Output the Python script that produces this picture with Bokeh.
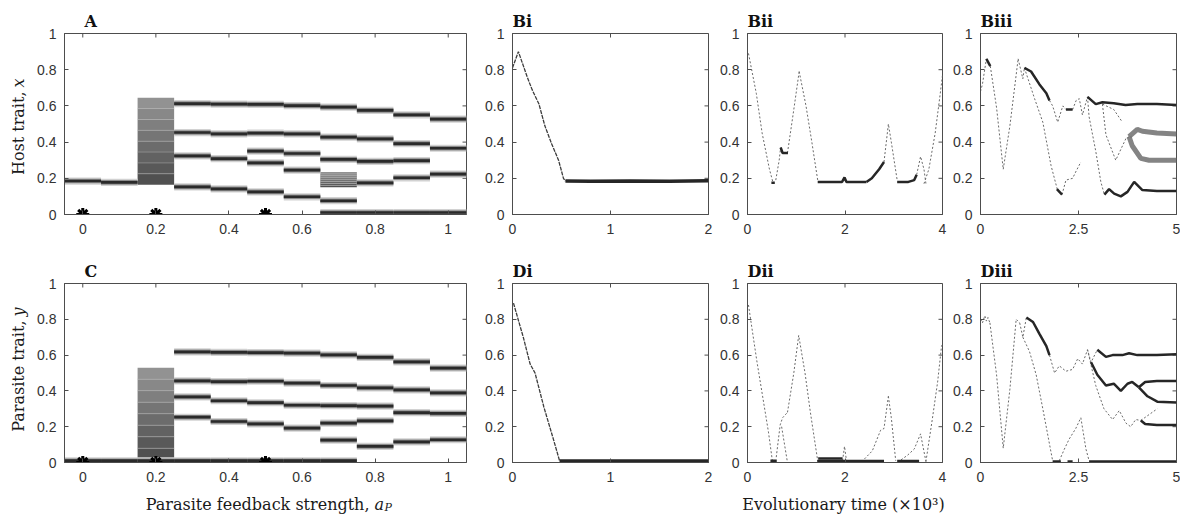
import numpy as np
from bokeh.plotting import figure
from bokeh.layouts import row, column
from bokeh.models import FixedTicker, LinearAxis, Range1d, Label
from bokeh.embed import file_html
from bokeh.resources import INLINE

# ------------------------------------------------------------------ data
Y_TICKS = [0, 0.2, 0.4, 0.6, 0.8, 1]
Y_TICK_LABELS = ["0", "0.2", "0.4", "0.6", "0.8", "1"]
AP_TICKS = [0, 0.2, 0.4, 0.6, 0.8, 1]
AP_TICK_LABELS = ["0", "0.2", "0.4", "0.6", "0.8", "1"]
T1_TICKS, T1_LABELS = [0, 1, 2], ["0", "1", "2"]
T2_TICKS, T2_LABELS = [0, 2, 4], ["0", "2", "4"]
T3_TICKS, T3_LABELS = [0, 2.5, 5], ["0", "2.5", "5"]

# panel A / C : branch positions for each parasite feedback strength
AP_VALUES = [0.0, 0.1, 0.2, 0.3, 0.4, 0.5, 0.6, 0.7, 0.8, 0.9, 1.0]
HOST_BRANCHES = [
    [0.185],
    [0.177],
    [],
    [0.613, 0.453, 0.324, 0.153],
    [0.610, 0.446, 0.309, 0.142],
    [0.608, 0.449, 0.350, 0.285, 0.125],
    [0.602, 0.446, 0.337, 0.245, 0.098],
    [0.593, 0.427, 0.304, 0.076, 0.011],
    [0.575, 0.418, 0.293, 0.175, 0.011],
    [0.551, 0.392, 0.298, 0.203, 0.011],
    [0.527, 0.366, 0.223, 0.011],
]
HOST_BLOCK_AP = [0.2, 0.7]
HOST_BLOCK_LOW = [0.165, 0.150]
HOST_BLOCK_HIGH = [0.645, 0.235]

PARA_BRANCHES = [
    [0.010],
    [0.010],
    [0.010],
    [0.618, 0.456, 0.367, 0.253, 0.010],
    [0.615, 0.452, 0.345, 0.229, 0.010],
    [0.614, 0.454, 0.334, 0.216, 0.010],
    [0.611, 0.443, 0.320, 0.192, 0.010],
    [0.601, 0.430, 0.318, 0.220, 0.125, 0.010],
    [0.587, 0.417, 0.315, 0.233, 0.090],
    [0.562, 0.406, 0.279, 0.115],
    [0.527, 0.389, 0.274, 0.127],
]
PARA_BLOCK_AP = [0.2]
PARA_BLOCK_LOW = [0.015]
PARA_BLOCK_HIGH = [0.530]

MARKED_AP = [0.0, 0.2, 0.5]
MARKED_Y = [0.0, 0.0, 0.0]

# panel Bi / Di  (time in 10^3)
BI_T_THIN = [[0.0, 0.06, 0.15, 0.20, 0.27, 0.33, 0.40, 0.47, 0.52, 0.54]]
BI_X_THIN = [[0.81, 0.90, 0.76, 0.69, 0.61, 0.49, 0.39, 0.30, 0.20, 0.185]]
BI_T_DARK = [[0.54, 0.8, 1.2, 1.6, 2.0]]
BI_X_DARK = [[0.185, 0.184, 0.185, 0.184, 0.186]]

DI_T_THIN = [[0.01, 0.11, 0.18, 0.23, 0.32, 0.42, 0.48]]
DI_Y_THIN = [[0.89, 0.70, 0.55, 0.50, 0.31, 0.125, 0.01]]
DI_T_DARK = [[0.48, 2.0]]
DI_Y_DARK = [[0.008, 0.008]]

# panel Bii / Dii
BII_T_FAINT = [
    [0.02, 0.18, 0.30, 0.45, 0.52],
    [0.58, 0.65, 0.68],
    [0.82, 0.95, 1.06],
    [1.06, 1.20, 1.32, 1.44],
    [2.80, 2.89, 2.95, 3.07],
    [3.47, 3.55, 3.62, 3.66],
    [3.62, 3.72, 3.85, 3.95, 4.0],
]
BII_X_FAINT = [
    [0.89, 0.67, 0.45, 0.25, 0.18],
    [0.19, 0.30, 0.37],
    [0.34, 0.58, 0.79],
    [0.79, 0.60, 0.40, 0.19],
    [0.29, 0.50, 0.40, 0.19],
    [0.22, 0.32, 0.25, 0.17],
    [0.17, 0.25, 0.45, 0.66, 0.77],
]
BII_T_DARK = [
    [0.49, 0.56],
    [0.68, 0.72, 0.83],
    [1.44, 1.94, 1.99, 2.03, 2.44],
    [2.44, 2.55, 2.70, 2.80],
    [3.07, 3.30, 3.42, 3.47],
]
BII_X_DARK = [
    [0.175, 0.175],
    [0.37, 0.34, 0.34],
    [0.18, 0.18, 0.205, 0.18, 0.18],
    [0.18, 0.20, 0.25, 0.29],
    [0.18, 0.18, 0.19, 0.22],
]

DII_T_FAINT = [
    [0.02, 0.19, 0.43, 0.51],
    [0.59, 0.67, 0.72, 0.82],
    [0.70, 0.82],
    [0.82, 0.95, 1.05, 1.18, 1.29, 1.44],
    [1.95, 1.99, 2.03],
    [2.40, 2.56, 2.73, 2.80, 2.89],
    [2.89, 2.95, 3.04],
    [3.15, 3.28, 3.42, 3.55, 3.66],
    [3.66, 3.79, 3.90, 3.98, 4.0],
]
DII_Y_FAINT = [
    [0.88, 0.57, 0.17, 0.01],
    [0.03, 0.21, 0.25, 0.28],
    [0.20, 0.0],
    [0.28, 0.50, 0.71, 0.50, 0.28, 0.01],
    [0.01, 0.09, 0.01],
    [0.02, 0.065, 0.18, 0.19, 0.37],
    [0.37, 0.25, 0.01],
    [0.015, 0.04, 0.075, 0.16, 0.005],
    [0.005, 0.24, 0.45, 0.65, 0.66],
]
DII_T_DARK = [[0.47, 0.60], [1.43, 2.80], [1.45, 1.95], [3.07, 3.52]]
DII_Y_DARK = [[0.01, 0.01], [0.008, 0.008], [0.022, 0.022], [0.008, 0.008]]

# panel Biii / Diii
BIII_T_FAINT = [
    [0.0, 0.05, 0.15],
    [0.25, 0.41, 0.58, 0.75, 0.96],
    [0.96, 1.08, 1.12],
    [1.76, 1.84, 1.97, 2.10, 2.18],
    [2.35, 2.44, 2.52, 2.60, 2.73],
    [3.11, 3.40, 3.62],
    [1.12, 1.38, 1.59, 1.80, 1.97, 2.08],
    [2.08, 2.18, 2.35, 2.44, 2.56],
    [2.73, 2.77, 2.94, 3.07, 3.16],
    [3.11, 3.20, 3.45, 3.71, 3.79],
]
BIII_X_FAINT = [
    [0.68, 0.72, 0.86],
    [0.82, 0.59, 0.25, 0.49, 0.86],
    [0.86, 0.75, 0.81],
    [0.63, 0.60, 0.51, 0.60, 0.58],
    [0.58, 0.63, 0.64, 0.55, 0.65],
    [0.61, 0.58, 0.51],
    [0.81, 0.64, 0.51, 0.27, 0.13, 0.11],
    [0.11, 0.19, 0.20, 0.24, 0.29],
    [0.65, 0.54, 0.35, 0.18, 0.11],
    [0.61, 0.44, 0.30, 0.42, 0.43],
]
BIII_T_DARK = [
    [0.15, 0.25],
    [1.12, 1.29, 1.50, 1.68, 1.76],
    [2.18, 2.35],
    [2.73, 2.94, 3.11, 3.40, 3.70, 4.00, 4.50, 5.00],
    [1.95, 2.08],
    [3.16, 3.28, 3.41, 3.58, 3.75, 3.92, 4.13, 4.50, 5.00],
]
BIII_X_DARK = [
    [0.86, 0.82],
    [0.81, 0.79, 0.72, 0.67, 0.63],
    [0.58, 0.58],
    [0.65, 0.61, 0.62, 0.615, 0.605, 0.61, 0.61, 0.605],
    [0.14, 0.11],
    [0.11, 0.14, 0.115, 0.10, 0.125, 0.18, 0.135, 0.13, 0.13],
]
BIII_T_BAND = [
    [3.79, 4.00, 4.13, 4.50, 5.00],
    [3.79, 3.87, 4.09, 4.30, 5.00],
]
BIII_X_BAND = [
    [0.43, 0.47, 0.46, 0.45, 0.445],
    [0.43, 0.38, 0.31, 0.30, 0.30],
]

DIII_T_FAINT = [
    [0.0, 0.05, 0.11, 0.15, 0.19, 0.24],
    [0.24, 0.41, 0.58, 0.75, 0.91, 1.00],
    [1.00, 1.08, 1.17],
    [1.76, 1.89, 2.01, 2.18, 2.35, 2.48, 2.60, 2.73, 2.82, 2.98],
    [2.73, 2.94, 3.15, 3.37, 3.54, 3.71, 3.83, 3.96, 4.09],
    [4.09, 4.51],
    [1.08, 1.25, 1.42, 1.59, 1.84],
    [2.01, 2.14, 2.26, 2.43, 2.56, 2.69, 2.77],
]
DIII_Y_FAINT = [
    [0.80, 0.78, 0.82, 0.79, 0.81, 0.78],
    [0.78, 0.49, 0.08, 0.41, 0.80, 0.78],
    [0.78, 0.70, 0.81],
    [0.60, 0.50, 0.54, 0.51, 0.52, 0.58, 0.55, 0.63, 0.56, 0.63],
    [0.63, 0.43, 0.30, 0.24, 0.29, 0.22, 0.20, 0.24, 0.235],
    [0.235, 0.30],
    [0.70, 0.62, 0.49, 0.30, 0.01],
    [0.01, 0.075, 0.13, 0.19, 0.25, 0.075, 0.01],
]
DIII_T_DARK = [
    [1.17, 1.34, 1.50, 1.68, 1.76],
    [2.98, 3.20, 3.37, 3.62, 3.79, 4.00, 4.50, 5.00],
    [2.82, 2.98, 3.20, 3.40, 3.58, 3.75, 3.87, 4.04],
    [4.04, 4.20, 4.50, 5.00],
    [4.04, 4.26, 4.51, 5.00],
    [4.09, 4.20, 4.50, 5.00],
    [1.84, 2.05],
    [2.22, 2.35],
    [2.77, 5.00],
]
DIII_Y_DARK = [
    [0.81, 0.785, 0.72, 0.65, 0.60],
    [0.63, 0.59, 0.60, 0.60, 0.61, 0.60, 0.60, 0.605],
    [0.56, 0.49, 0.43, 0.44, 0.40, 0.44, 0.45, 0.42],
    [0.42, 0.45, 0.455, 0.455],
    [0.42, 0.37, 0.34, 0.335],
    [0.235, 0.215, 0.21, 0.21],
    [0.006, 0.006],
    [0.006, 0.006],
    [0.006, 0.006],
]

# ------------------------------------------------------------------ styling
FRAME = "#4d4d4d"
TICK_TEXT = "#333333"
TICK_FONT = "Liberation Sans"
SERIF = "DejaVu Serif"
TICK_LEN = 4  # px, inward


def make_axis(ticks, labels, standoff):
    ax = LinearAxis(ticker=FixedTicker(ticks=ticks, minor_ticks=[]))
    ax.major_tick_in = TICK_LEN
    ax.major_tick_out = 0
    ax.minor_tick_in = 0
    ax.minor_tick_out = 0
    ax.axis_line_color = FRAME
    ax.major_tick_line_color = FRAME
    ax.major_label_overrides = {float(t): l for t, l in zip(ticks, labels)}
    ax.major_label_text_font = TICK_FONT
    ax.major_label_text_font_size = "14px"
    ax.major_label_text_color = TICK_TEXT
    ax.major_label_standoff = standoff
    return ax


def make_fig(width, height, ml, mr, mt, mb, xr, xticks, xlabels, title, title_offset):
    fw, fh = width - ml - mr, height - mt - mb
    p = figure(width=width, height=height, x_range=Range1d(*xr), y_range=Range1d(0, 1),
               output_backend="svg", toolbar_location=None, x_axis_type=None, y_axis_type=None,
               min_border_left=ml, min_border_right=mr, min_border_top=mt, min_border_bottom=mb,
               title=title)
    p.add_layout(make_axis(xticks, xlabels, 9), "below")
    p.add_layout(make_axis(Y_TICKS, Y_TICK_LABELS, 8), "left")
    # inward ticks on the right and top edges of the box
    dx = (xr[1] - xr[0]) * TICK_LEN / fw
    dy = TICK_LEN / fh
    p.segment(x0=[xr[1]] * len(Y_TICKS), y0=Y_TICKS, x1=[xr[1] - dx] * len(Y_TICKS), y1=Y_TICKS,
              line_color=FRAME, line_width=1)
    p.segment(x0=xticks, y0=[1] * len(xticks), x1=xticks, y1=[1 - dy] * len(xticks),
              line_color=FRAME, line_width=1)
    p.outline_line_color = FRAME
    p.background_fill_color = "white"
    p.border_fill_color = "white"
    p.title.align = "left"
    p.title.offset = title_offset
    p.title.standoff = 5
    p.title.vertical_align = "bottom"
    p.title.text_font = SERIF
    p.title.text_font_style = "bold"
    p.title.text_font_size = "16px"
    p.title.text_color = "#111111"
    return p


def draw_bands(p, aps, branches):
    left, right, y = [], [], []
    for a, br in zip(aps, branches):
        for v in br:
            left.append(a - 0.05)
            right.append(a + 0.05)
            y.append(v)
    y = np.array(y)
    for half, col in ((0.020, "#d2d2d2"), (0.013, "#8c8c8c"), (0.0075, "#2a2a2a")):
        p.quad(left=left, right=right, bottom=y - half, top=y + half,
               fill_color=col, line_color=None)


def draw_blocks(p, aps, lows, highs):
    n = 8
    for a, lo, hi in zip(aps, lows, highs):
        edges = np.linspace(lo, hi, n + 1)
        shades = np.linspace(0x50, 0x92, n).astype(int)
        for k in range(n):
            c = "#%02x%02x%02x" % (shades[k], shades[k], shades[k])
            p.quad(left=[a - 0.05], right=[a + 0.05], bottom=[edges[k]], top=[edges[k + 1]],
                   fill_color=c, line_color=None)
        ys = edges[1:-1]
        p.multi_line(xs=[[a - 0.05, a + 0.05]] * len(ys), ys=[[v, v] for v in ys],
                     line_color="#b0b0b0", line_width=1, line_alpha=0.5)


def draw_series(p, faint=None, dark=None, band=None, thin=None, dark_width=2.5):
    if band:
        p.multi_line(xs=band[0], ys=band[1], line_color="#777777", line_width=5, line_alpha=0.9)
    if thin:
        p.multi_line(xs=thin[0], ys=thin[1], line_color="#3c3c3c", line_width=1.3,
                     line_dash="4 1")
    if faint:
        p.multi_line(xs=faint[0], ys=faint[1], line_color="#6a6a6a", line_width=1,
                     line_dash="2 2")
    if dark:
        p.multi_line(xs=dark[0], ys=dark[1], line_color="#262626", line_width=dark_width)


def strip(width, height):
    s = figure(width=width, height=height, x_range=Range1d(0, 1), y_range=Range1d(0, 1),
               output_backend="svg", toolbar_location=None, x_axis_type=None, y_axis_type=None,
               min_border_left=0, min_border_right=0, min_border_top=0, min_border_bottom=0,
               title=None)
    s.outline_line_color = None
    s.background_fill_color = "white"
    s.border_fill_color = "white"
    return s


def lab(p, x, y, text, size="16px", style="normal", align="left", baseline="alphabetic", angle=0.0):
    p.add_layout(Label(x=x, y=y, x_units="screen", y_units="screen", text=text,
                       text_font=SERIF, text_font_size=size, text_font_style=style,
                       text_align=align, text_baseline=baseline, angle=angle,
                       text_color="#1a1a1a"))


# ------------------------------------------------------------------ layout sizes
STRIP_W = 34
TOP_H, TOP_MT, TOP_MB = 248, 33, 34
BOT_H, BOT_MT, BOT_MB = 242, 35, 28
XSTRIP_H = 24

# ------------------------------------------------------------------ top row
pA = make_fig(440, TOP_H, 28, 8, TOP_MT, TOP_MB, (-0.05, 1.05), AP_TICKS, AP_TICK_LABELS, "A", 20)
draw_blocks(pA, HOST_BLOCK_AP, HOST_BLOCK_LOW, HOST_BLOCK_HIGH)
draw_bands(pA, AP_VALUES, HOST_BRANCHES)
pA.scatter(MARKED_AP, MARKED_Y, marker="asterisk", size=13, line_width=3, line_color="black")

pBi = make_fig(242, TOP_H, 38, 8, TOP_MT, TOP_MB, (0, 2), T1_TICKS, T1_LABELS, "Bi", 0)
draw_series(pBi, thin=(BI_T_THIN, BI_X_THIN), dark=(BI_T_DARK, BI_X_DARK), dark_width=3.5)

pBii = make_fig(234, TOP_H, 31, 8, TOP_MT, TOP_MB, (0, 4), T2_TICKS, T2_LABELS, "Bii", 0)
draw_series(pBii, faint=(BII_T_FAINT, BII_X_FAINT), dark=(BII_T_DARK, BII_X_DARK))

pBiii = make_fig(230, TOP_H, 29, 4, TOP_MT, TOP_MB, (0, 5), T3_TICKS, T3_LABELS, "Biii", 0)
draw_series(pBiii, faint=(BIII_T_FAINT, BIII_X_FAINT), dark=(BIII_T_DARK, BIII_X_DARK),
            band=(BIII_T_BAND, BIII_X_BAND))

# ------------------------------------------------------------------ bottom row
pC = make_fig(440, BOT_H, 28, 8, BOT_MT, BOT_MB, (-0.05, 1.05), AP_TICKS, AP_TICK_LABELS, "C", 20)
draw_blocks(pC, PARA_BLOCK_AP, PARA_BLOCK_LOW, PARA_BLOCK_HIGH)
draw_bands(pC, AP_VALUES, PARA_BRANCHES)
pC.scatter(MARKED_AP, MARKED_Y, marker="asterisk", size=13, line_width=3, line_color="black")

pDi = make_fig(242, BOT_H, 38, 8, BOT_MT, BOT_MB, (0, 2), T1_TICKS, T1_LABELS, "Di", 0)
draw_series(pDi, thin=(DI_T_THIN, DI_Y_THIN), dark=(DI_T_DARK, DI_Y_DARK), dark_width=3.5)

pDii = make_fig(234, BOT_H, 31, 8, BOT_MT, BOT_MB, (0, 4), T2_TICKS, T2_LABELS, "Dii", 0)
draw_series(pDii, faint=(DII_T_FAINT, DII_Y_FAINT), dark=(DII_T_DARK, DII_Y_DARK))

pDiii = make_fig(230, BOT_H, 29, 4, BOT_MT, BOT_MB, (0, 5), T3_TICKS, T3_LABELS, "Diii", 0)
draw_series(pDiii, faint=(DIII_T_FAINT, DIII_Y_FAINT), dark=(DIII_T_DARK, DIII_Y_DARK))

# ------------------------------------------------------------------ axis titles
ystrip = strip(STRIP_W, TOP_H + BOT_H)
lab(ystrip, 18, 399, "Host trait,", align="right", baseline="middle", angle=np.pi / 2)
lab(ystrip, 18, 403, "x", style="italic", align="left", baseline="middle", angle=np.pi / 2)
lab(ystrip, 18, 170, "Parasite trait,", align="right", baseline="middle", angle=np.pi / 2)
lab(ystrip, 18, 174, "y", style="italic", align="left", baseline="middle", angle=np.pi / 2)

xstrip = strip(440 + 242 + 234 + 230, XSTRIP_H)
lab(xstrip, 335, 10, "Parasite feedback strength,", align="right")
lab(xstrip, 340, 10, "a", style="italic")
lab(xstrip, 350, 7, "P", size="11px", style="italic")
lab(xstrip, 809, 10, "Evolutionary time (×10³)", align="center")

grid = column(row(pA, pBi, pBii, pBiii), row(pC, pDi, pDii, pDiii), xstrip)
layout = row(ystrip, grid)
open("out.html", "w").write(file_html(layout, INLINE))
